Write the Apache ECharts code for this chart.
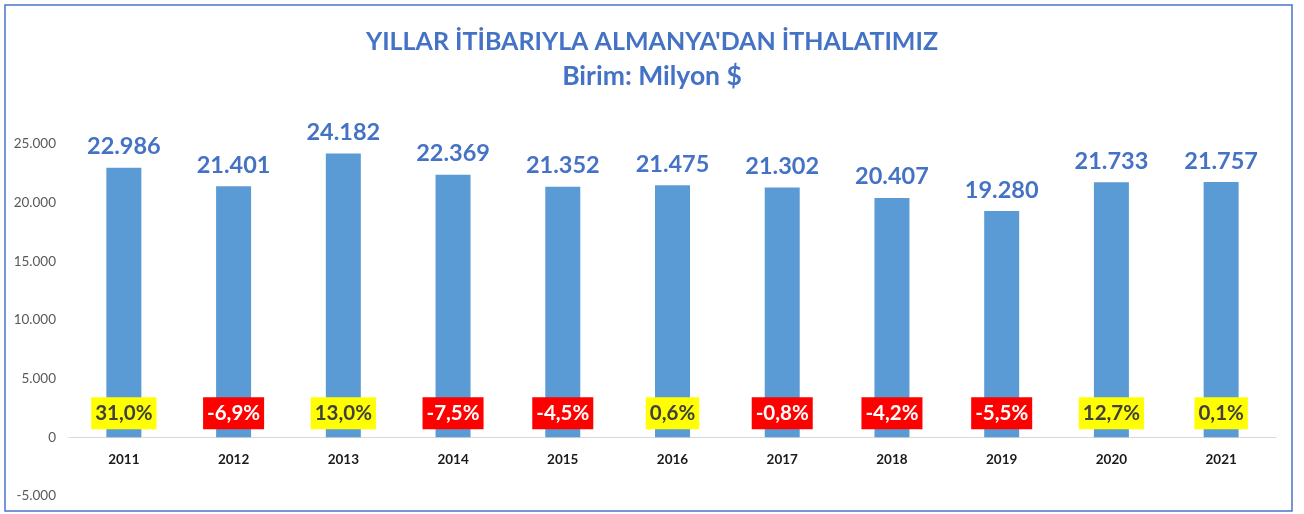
<!DOCTYPE html>
<html>
<head>
<meta charset="utf-8">
<script src="https://cdn.jsdelivr.net/npm/echarts@6/dist/echarts.min.js"></script>
<style>
html,body{margin:0;padding:0;background:#fff;}
#c{width:1304px;height:514px;}
</style>
</head>
<body>
<div id="c"></div>
<script>
const years = ['2011','2012','2013','2014','2015','2016','2017','2018','2019','2020','2021'];
const imports = [22986, 21401, 24182, 22369, 21352, 21475, 21302, 20407, 19280, 21733, 21757];
const changes = [31.0, -6.9, 13.0, -7.5, -4.5, 0.6, -0.8, -4.2, -5.5, 12.7, 0.1];
const yTicks = [-5000, 0, 5000, 10000, 15000, 20000, 25000];

const fmtThousands = v => {
  const s = Math.abs(v).toString().replace(/\B(?=(\d{3})+(?!\d))/g, '.');
  return (v < 0 ? '-' : '') + s;
};
const fmtPct = v => v.toFixed(1).replace('.', ',') + '%';

const chart = echarts.init(document.getElementById('c'), null, {renderer: 'canvas'});
const FONT = 'Lato, "Open Sans", sans-serif';

const H = 514, GTOP = 144, GBOTTOM = 18;
const gridH = H - GTOP - GBOTTOM;
const yMin = yTicks[0], yMax = yTicks[yTicks.length - 1];
const zeroOffset = -(0 - yMin) / (yMax - yMin) * gridH;

chart.setOption({
  backgroundColor: '#ffffff',
  animation: false,
  title: [{
    text: "YILLAR İTİBARIYLA ALMANYA'DAN İTHALATIMIZ",
    left: 'center',
    top: 24,
    textStyle: {color: '#4472C4', fontSize: 25, fontWeight: 'bold', fontFamily: FONT}
  }, {
    text: 'Birim: Milyon $',
    left: 'center',
    top: 58,
    textStyle: {color: '#4472C4', fontSize: 26.5, fontWeight: 'bold', fontFamily: FONT}
  }],
  graphic: [{
    type: 'rect',
    shape: {x: 5, y: 5, width: 1287, height: 506},
    style: {fill: 'none', stroke: '#4A74C9', lineWidth: 1.5},
    silent: true
  }],
  grid: {left: 69, right: 28, top: GTOP, bottom: GBOTTOM, containLabel: false, outerBoundsMode: 'none'},
  xAxis: {
    type: 'category',
    data: years,
    offset: zeroOffset,
    axisLine: {onZero: false, lineStyle: {color: '#D9D9D9', width: 1}},
    axisTick: {show: false},
    axisLabel: {color: '#1a1a1a', fontSize: 13.5, fontWeight: 'bold', fontFamily: FONT, margin: 15}
  },
  yAxis: {
    type: 'value',
    min: yMin,
    max: yMax,
    interval: yTicks[1] - yTicks[0],
    axisLine: {show: false},
    axisTick: {show: false},
    splitLine: {show: false},
    axisLabel: {color: '#595959', fontSize: 13.5, fontFamily: FONT, margin: 13, formatter: fmtThousands}
  },
  series: [
    {
      type: 'bar',
      data: imports,
      barWidth: 35,
      itemStyle: {color: '#5B9BD5'},
      label: {
        show: true,
        position: 'top',
        distance: 9,
        color: '#4472C4',
        fontSize: 23.5,
        fontWeight: 'bold',
        fontFamily: FONT,
        formatter: p => fmtThousands(p.value)
      },
      z: 2
    },
    {
      type: 'bar',
      data: imports.map((v, i) => ({
        value: v,
        label: changes[i] >= 0
          ? {backgroundColor: '#FFFF00', color: '#404040'}
          : {backgroundColor: '#FF0000', color: '#FFFFFF'}
      })),
      barWidth: 35,
      barGap: '-100%',
      itemStyle: {color: 'rgba(0,0,0,0)'},
      label: {
        show: true,
        position: 'insideBottom',
        distance: 8,
        fontSize: 20.5,
        lineHeight: 22,
        fontWeight: 'bold',
        fontFamily: FONT,
        padding: [5, 4, 5, 4],
        formatter: p => fmtPct(changes[p.dataIndex])
      },
      z: 3
    }
  ]
});
</script>
</body>
</html>
